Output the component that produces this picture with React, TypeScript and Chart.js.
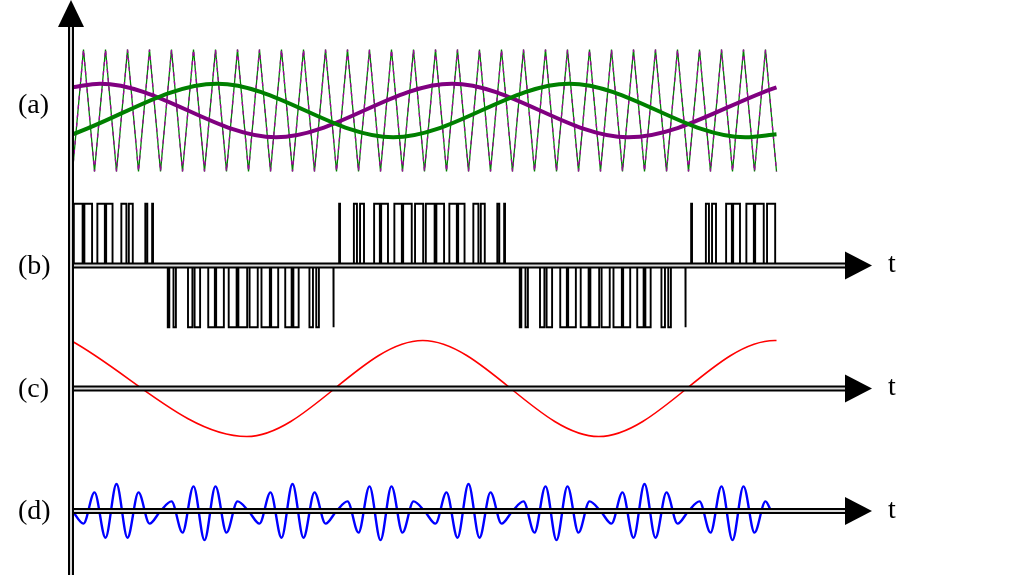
import React, { useEffect, useRef } from 'react';
import { Chart, registerables } from 'chart.js';
Chart.register(...registerables);

// ---- Data (time in carrier periods) ----
// (a) carrier triangle: vertices
const carrierT = [0, 0.5, 1, 1.5, 2, 2.5, 3, 3.5, 4, 4.5, 5, 5.5, 6, 6.5, 7, 7.5, 8, 8.5, 9, 9.5, 10, 10.5, 11, 11.5, 12, 12.5, 13, 13.5, 14, 14.5, 15, 15.5, 16, 16.5, 17, 17.5, 18, 18.5, 19, 19.5, 20, 20.5, 21, 21.5, 22, 22.5, 23, 23.5, 24, 24.5, 25, 25.5, 26, 26.5, 27, 27.5, 28, 28.5, 29, 29.5, 30, 30.5, 31, 31.5, 32];
const carrierV = [-1, 1, -1, 1, -1, 1, -1, 1, -1, 1, -1, 1, -1, 1, -1, 1, -1, 1, -1, 1, -1, 1, -1, 1, -1, 1, -1, 1, -1, 1, -1, 1, -1, 1, -1, 1, -1, 1, -1, 1, -1, 1, -1, 1, -1, 1, -1, 1, -1, 1, -1, 1, -1, 1, -1, 1, -1, 1, -1, 1, -1, 1, -1, 1, -1];
// (a) reference sines (purple, green): start, extrema, end
const refAT = [0, 1.25, 9.25, 17.25, 25.25, 32];
const refAV = [0.38, 0.44, -0.44, 0.44, -0.44, 0.38];
const refBT = [0, 6.58, 14.58, 22.58, 30.58, 32];
const refBV = [-0.39, 0.44, -0.44, 0.44, -0.44, -0.39];
// (b) line voltage PWM pulses
const pulseStart = [0.06, 0.54, 1.13, 1.53, 2.22, 2.56, 3.31, 3.62,
  4.33, 4.59, 5.25, 5.55, 6.17, 6.53, 7.10, 7.54, 8.05, 8.59, 9.03, 9.67, 10.04, 10.77, 11.08, 11.86,
  12.12, 12.79, 13.07, 13.71, 14.03, 14.63, 15.03, 15.57, 16.06, 16.54, 17.13, 17.53, 18.22, 18.56, 19.31, 19.62,
  20.33, 20.59, 21.25, 21.55, 22.17, 22.53, 23.10, 23.54, 24.05, 24.59, 25.03, 25.67, 26.04, 26.77, 27.08, 27.86,
  28.12, 28.79, 29.07, 29.71, 30.03, 30.63, 31.03, 31.57];
const pulseEnd = [0.46, 0.89, 1.47, 1.82, 2.45, 2.74, 3.40, 3.66,
  4.40, 4.70, 5.45, 5.80, 6.47, 6.88, 7.46, 7.94, 8.42, 8.97, 9.35, 9.96, 10.28, 10.93, 11.20, 11.87,
  12.16, 12.93, 13.25, 13.97, 14.34, 14.97, 15.42, 15.94, 16.46, 16.89, 17.47, 17.82, 18.45, 18.74, 19.40, 19.66,
  20.40, 20.70, 21.45, 21.80, 22.47, 22.88, 23.46, 23.94, 24.42, 24.97, 25.35, 25.96, 26.28, 26.93, 27.20, 27.87,
  28.16, 28.93, 29.25, 29.97, 30.34, 30.97, 31.42, 31.94];
const pulseLevel = [1, 1, 1, 1, 1, 1, 1, 1,
  -1, -1, -1, -1, -1, -1, -1, -1, -1, -1, -1, -1, -1, -1, -1, -1,
  1, 1, 1, 1, 1, 1, 1, 1, 1, 1, 1, 1, 1, 1, 1, 1,
  -1, -1, -1, -1, -1, -1, -1, -1, -1, -1, -1, -1, -1, -1, -1, -1,
  1, 1, 1, 1, 1, 1, 1, 1];
// (c) fundamental: extrema
const fundT = [-0.08, 7.92, 15.92, 23.92, 31.92, 32];
const fundV = [1, -1, 1, -1, 1, 1];
// (d) ripple: extrema every half carrier period
const rippleT = [0, 0.5, 1, 1.5, 2, 2.5, 3, 3.5, 4, 4.5, 5, 5.5, 6, 6.5, 7, 7.5,
  8, 8.5, 9, 9.5, 10, 10.5, 11, 11.5, 12, 12.5, 13, 13.5, 14, 14.5, 15, 15.5,
  16, 16.5, 17, 17.5, 18, 18.5, 19, 19.5, 20, 20.5, 21, 21.5, 22, 22.5, 23, 23.5,
  24, 24.5, 25, 25.5, 26, 26.5, 27, 27.5, 28, 28.5, 29, 29.5, 30, 30.5, 31, 31.5, 31.75];
const rippleV = [0, -0.42, 0.62, -0.89, 0.9, -0.89, 0.62, -0.42, 0, 0.32, -0.72, 0.82, -0.97, 0.82, -0.72, 0.32,
  0, -0.42, 0.62, -0.89, 0.9, -0.89, 0.62, -0.42, 0, 0.32, -0.72, 0.82, -0.97, 0.82, -0.72, 0.32,
  0, -0.42, 0.62, -0.89, 0.9, -0.89, 0.62, -0.42, 0, 0.32, -0.72, 0.82, -0.97, 0.82, -0.72, 0.32,
  0, -0.42, 0.62, -0.89, 0.9, -0.89, 0.62, -0.42, 0, 0.32, -0.72, 0.82, -0.97, 0.82, -0.72, 0.32, 0];
const panelLabels = ['(a)', '(b)', '(c)', '(d)'];
const axisLabel = 't';

const W = 1028, H = 575;

const zip = (xs: number[], ys: number[]) => xs.map((x, i) => ({ x, y: ys[i] }));

function pulsePoints() {
  const pts: { x: number; y: number }[] = [{ x: 0, y: 0 }];
  pulseStart.forEach((s, i) => {
    pts.push({ x: s, y: 0 }, { x: s, y: pulseLevel[i] }, { x: pulseEnd[i], y: pulseLevel[i] }, { x: pulseEnd[i], y: 0 });
  });
  pts.push({ x: 32, y: 0 });
  return pts;
}

const decor = {
  id: 'decor',
  afterDatasetsDraw(chart: any) {
    const ctx = chart.ctx as CanvasRenderingContext2D;
    const xs = chart.scales.x;
    const x0 = xs.getPixelForValue(0);
    const shaftL = x0 - 4;
    const arrowBase = 845, arrowTip = 872;
    ctx.save();
    // horizontal axes
    ['yb', 'yc', 'yd'].forEach((id) => {
      const y = chart.scales[id].getPixelForValue(0);
      ctx.fillStyle = '#000';
      ctx.fillRect(shaftL, y - 3, arrowBase - shaftL, 6);
      ctx.fillStyle = '#d9d9d9';
      ctx.fillRect(shaftL, y - 1, arrowBase - shaftL, 2);
      ctx.fillStyle = '#000';
      ctx.beginPath();
      ctx.moveTo(arrowBase, y - 14);
      ctx.lineTo(arrowTip, y);
      ctx.lineTo(arrowBase, y + 14);
      ctx.closePath();
      ctx.fill();
      ctx.font = '28px "Liberation Serif"';
      ctx.textAlign = 'left';
      ctx.textBaseline = 'alphabetic';
      ctx.fillText(axisLabel, 888, y + 6.5);
    });
    // vertical axis
    const vx = 71;
    ctx.fillStyle = '#000';
    ctx.fillRect(vx - 3, 26, 6, H - 26);
    ctx.fillStyle = '#d9d9d9';
    ctx.fillRect(vx - 1, 26, 2, H - 26);
    ctx.fillStyle = '#000';
    ctx.beginPath();
    ctx.moveTo(vx - 13, 27);
    ctx.lineTo(vx, 0);
    ctx.lineTo(vx + 13, 27);
    ctx.closePath();
    ctx.fill();
    // panel labels
    ctx.font = '28px "Liberation Serif"';
    const ya = chart.scales.ya.getPixelForValue(0);
    const labelY = [ya - 6, chart.scales.yb.getPixelForValue(0), chart.scales.yc.getPixelForValue(0), chart.scales.yd.getPixelForValue(0)];
    panelLabels.forEach((l, i) => ctx.fillText(l, 18, labelY[i] + 8));
    ctx.restore();
  },
};

export default function App() {
  const ref = useRef<HTMLCanvasElement>(null);
  useEffect(() => {
    const common = { pointRadius: 0, fill: false };
    // Chart.js paints dataset 0 last (on top)
    const c = new Chart(ref.current!, {
      type: 'line',
      data: {
        datasets: [
          { ...common, data: zip(refBT, refBV), borderColor: '#008000', borderWidth: 4, cubicInterpolationMode: 'monotone', yAxisID: 'ya' },
          { ...common, data: zip(refAT, refAV), borderColor: '#800080', borderWidth: 4, cubicInterpolationMode: 'monotone', yAxisID: 'ya' },
          { ...common, data: zip(carrierT, carrierV), borderColor: '#a000a0', borderWidth: 1.3, borderDash: [4, 5], yAxisID: 'ya' },
          { ...common, data: zip(carrierT, carrierV), borderColor: '#008000', borderWidth: 1.3, yAxisID: 'ya' },
          { ...common, data: pulsePoints(), borderColor: '#000', borderWidth: 1.9, yAxisID: 'yb' },
          { ...common, data: zip(fundT, fundV), borderColor: '#ff0000', borderWidth: 1.6, cubicInterpolationMode: 'monotone', yAxisID: 'yc' },
          { ...common, data: zip(rippleT, rippleV), borderColor: '#0000ff', borderWidth: 2.4, cubicInterpolationMode: 'monotone', yAxisID: 'yd' },
        ] as any,
      },
      options: {
        animation: false,
        responsive: false,
        events: [],
        plugins: { legend: { display: false }, tooltip: { enabled: false } },
        layout: { padding: 0 },
        scales: {
          x: { type: 'linear', display: false, min: -72.5 / 22, max: (W - 72.5) / 22 },
          ya: { type: 'linear', display: false, min: -(H - 110.5) / 61, max: 110.5 / 61 },
          yb: { type: 'linear', display: false, min: -(H - 265.5) / 61.7, max: 265.5 / 61.7 },
          yc: { type: 'linear', display: false, min: -(H - 388.5) / 48, max: 388.5 / 48 },
          yd: { type: 'linear', display: false, min: -(H - 511) / 30, max: 511 / 30 },
        },
      },
      plugins: [decor],
    });
    return () => c.destroy();
  }, []);
  return (
    <div style={{ position: 'fixed', left: 0, top: 0, width: W, height: H, background: '#fff' }}>
      <canvas ref={ref} width={W} height={H} style={{ display: 'block' }} />
    </div>
  );
}
